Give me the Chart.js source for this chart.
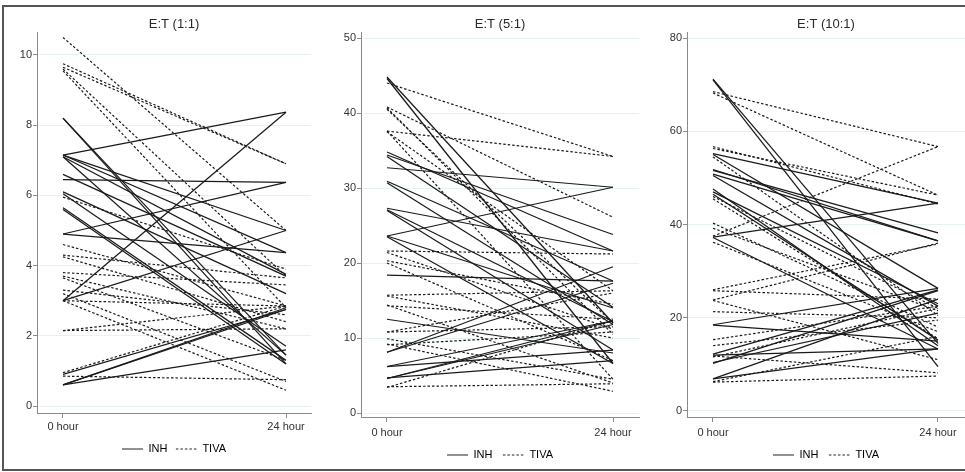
<!DOCTYPE html>
<html><head><meta charset="utf-8">
<script src="https://cdn.jsdelivr.net/npm/chart.js@4.4.1/dist/chart.umd.min.js"></script>
<style>
html,body{margin:0;padding:0;background:#fff;overflow:hidden;}
#wrap{position:relative;width:965px;height:472px;overflow:hidden;}
canvas{position:absolute;top:0;}
#frame{position:absolute;left:2px;top:5px;width:980px;height:462px;border-left:2px solid #555;border-top:2px solid #555;border-bottom:2px solid #555;}
</style></head><body>
<div id="wrap">
<div id="frame"></div>
<canvas id="c1" width="320" height="472" style="left:0px"></canvas>
<canvas id="c2" width="320" height="472" style="left:325px"></canvas>
<canvas id="c3" width="315" height="472" style="left:650px"></canvas>
</div>
<script>
// ---- tick labels / categories ----
const timePoints = [0, 24];
const timeLabels = ['0 hour', '24 hour'];
const groupLabels = ['INH', 'TIVA'];
const panelTitles = ['E:T (1:1)', 'E:T (5:1)', 'E:T (10:1)'];
const yTicks11 = [0, 2, 4, 6, 8, 10];
const yTicks51 = [0, 10, 20, 30, 40, 50];
const yTicks101 = [0, 20, 40, 60, 80];

// ---- E:T (1:1) ----
const inh11_0h  = [8.2, 8.2, 7.15, 7.15, 7.15, 7.1, 7.1, 6.6, 6.45, 6.1, 6.05, 5.65, 5.6, 4.9, 4.9, 3.0, 3.0, 0.9, 0.6, 0.6, 0.6];
const inh11_24h = [1.2, 1.45, 8.37, 5.0, 4.37, 3.75, 1.45, 3.7, 6.37, 3.2, 1.7, 1.3, 1.2, 6.37, 4.37, 8.37, 5.0, 2.75, 2.8, 2.75, 1.6];
const tiva11_0h  = [10.5, 9.75, 9.65, 9.6, 9.55, 5.95, 4.6, 4.3, 4.25, 3.8, 3.7, 3.65, 3.3, 3.2, 3.0, 3.0, 2.15, 2.15, 0.95, 0.85];
const tiva11_24h = [5.0, 6.9, 6.9, 3.7, 2.8, 3.9, 2.85, 3.65, 2.4, 3.45, 2.2, 1.3, 2.6, 0.7, 2.85, 0.45, 2.85, 2.2, 2.85, 0.75];

// ---- E:T (5:1) ----
const inh51_0h  = [44.8, 44.6, 34.8, 34.4, 34.2, 32.7, 30.9, 30.7, 27.3, 27.1, 27.0, 23.6, 23.6, 23.5, 18.4, 12.5, 8.1, 8.1, 6.2, 6.2, 4.6, 4.6, 4.7];
const inh51_24h = [12.0, 6.6, 21.6, 23.8, 14.1, 30.1, 17.6, 11.8, 21.6, 12.2, 8.4, 30.1, 14.0, 6.6, 17.6, 8.0, 19.5, 17.3, 8.4, 12.3, 11.8, 12.3, 7.0];
const tiva51_0h  = [44.0, 40.8, 40.7, 40.5, 37.6, 37.5, 37.6, 21.6, 21.4, 20.3, 20.0, 15.7, 15.6, 14.3, 14.4, 10.8, 10.8, 9.9, 9.1, 3.5, 3.4, 9.2];
const tiva51_24h = [34.2, 26.1, 10.5, 12.0, 34.2, 16.3, 4.5, 21.2, 11.2, 14.5, 7.0, 16.3, 10.0, 12.5, 4.0, 16.0, 11.5, 4.5, 10.8, 3.9, 12.3, 2.9];

// ---- E:T (10:1) ----
const inh101_0h  = [71.2, 71.0, 55.2, 55.0, 51.8, 51.6, 50.8, 50.5, 47.6, 47.0, 46.5, 37.3, 37.2, 18.5, 18.4, 12.2, 12.0, 10.2, 10.4, 6.9, 6.9];
const inh101_24h = [14.5, 9.5, 44.6, 26.3, 36.5, 38.2, 36.5, 22.5, 14.0, 23.0, 15.2, 44.6, 13.3, 26.3, 15.0, 26.0, 13.3, 25.8, 21.0, 24.0, 13.3];
const tiva101_0h  = [68.5, 68.2, 56.7, 56.3, 54.5, 46.0, 45.5, 40.3, 39.2, 37.5, 36.2, 26.0, 25.8, 23.8, 23.7, 21.3, 15.3, 14.0, 11.6, 11.8, 6.2, 6.3];
const tiva101_24h = [56.7, 46.3, 44.4, 46.3, 20.5, 22.0, 15.5, 18.0, 21.5, 56.7, 17.0, 35.8, 24.0, 36.0, 11.0, 20.0, 22.5, 19.5, 22.0, 8.2, 7.5, 16.0];

const FONT = "'Liberation Sans', Arial, sans-serif";
const LINE = '#1a1a1a';
const DASH = [2.5, 2];

function buildSets(s, e, dash, width) {
  return s.map((v, i) => ({
    label: dash.length ? groupLabels[1] : groupLabels[0],
    data: [{x: timePoints[0], y: v}, {x: timePoints[1], y: e[i]}],
    borderColor: LINE, borderWidth: width, borderDash: dash,
    pointRadius: 0, fill: false, tension: 0
  }));
}

function makePanel(id, title, yTicks, inh0, inh24, tiva0, tiva24, g) {
  const datasets = buildSets(tiva0, tiva24, DASH, 1.2).concat(buildSets(inh0, inh24, [], 1.25));
  new Chart(document.getElementById(id), {
    type: 'line',
    data: {datasets},
    options: {
      responsive: false, animation: false, events: [],
      layout: {padding: {left: 0, right: g.padR, top: 0, bottom: g.padB}},
      plugins: {
        tooltip: {enabled: false},
        title: {display: true, text: title, fullSize: false, color: '#2a2a2a',
                font: {family: FONT, size: 13, weight: 'normal'}, padding: {top: 17, bottom: 0}},
        legend: {display: true, position: 'bottom', fullSize: false,
          labels: {usePointStyle: true, pointStyleWidth: 21, boxHeight: 11, padding: g.lp,
            color: '#222', font: {family: FONT, size: 11},
            generateLabels: () => [
              {text: groupLabels[0], strokeStyle: '#222', fillStyle: 'rgba(0,0,0,0)', lineWidth: 1.2, lineDash: [], pointStyle: 'line', hidden: false},
              {text: groupLabels[1], strokeStyle: '#222', fillStyle: 'rgba(0,0,0,0)', lineWidth: 1.2, lineDash: DASH, pointStyle: 'line', hidden: false}
            ]}}
      },
      scales: {
        x: {type: 'linear', min: g.xmin, max: g.xmax,
          afterBuildTicks: s => { s.ticks = timePoints.map(v => ({value: v})); },
          afterFit: s => { s.height = g.xh; },
          ticks: {autoSkip: false, maxRotation: 0, padding: g.xpad, color: '#333',
                  font: {family: FONT, size: 11}, callback: (v, i) => timeLabels[i]},
          grid: {drawOnChartArea: false, drawTicks: true, tickLength: 5, color: '#8a8a8a'},
          border: {display: true, color: '#8a8a8a', width: 1}},
        y: {type: 'linear', min: g.ymin, max: g.ymax,
          afterBuildTicks: s => { s.ticks = yTicks.map(v => ({value: v})); },
          afterFit: s => { s.width = g.yw; },
          ticks: {padding: 1, color: '#333', font: {family: FONT, size: 11}},
          grid: {color: 'rgba(214,230,232,0.55)', tickColor: '#8a8a8a', tickLength: 4},
          border: {display: true, color: '#8a8a8a', width: 1}}
      }
    }
  });
}

makePanel('c1', panelTitles[0], yTicks11, inh11_0h, inh11_24h, tiva11_0h, tiva11_24h,
  {padR: 9, padB: 7.5, xh: 22, xpad: 2.4, lp: 8.5, yw: 37, xmin: -2.798, xmax: 26.69, ymin: -0.199, ymax: 10.638});
makePanel('c2', panelTitles[1], yTicks51, inh51_0h, inh51_24h, tiva51_0h, tiva51_24h,
  {padR: 6, padB: 1.5, xh: 22, xpad: 4.4, lp: 10.5, yw: 36, xmin: -2.761, xmax: 26.761, ymin: -0.533, ymax: 50.72});
makePanel('c3', panelTitles[2], yTicks101, inh101_0h, inh101_24h, tiva101_0h, tiva101_24h,
  {padR: 0, padB: 1.5, xh: 22, xpad: 4.4, lp: 10.5, yw: 37, xmin: -2.773, xmax: 26.88, ymin: -1.287, ymax: 81.16});
</script>
</body></html>
